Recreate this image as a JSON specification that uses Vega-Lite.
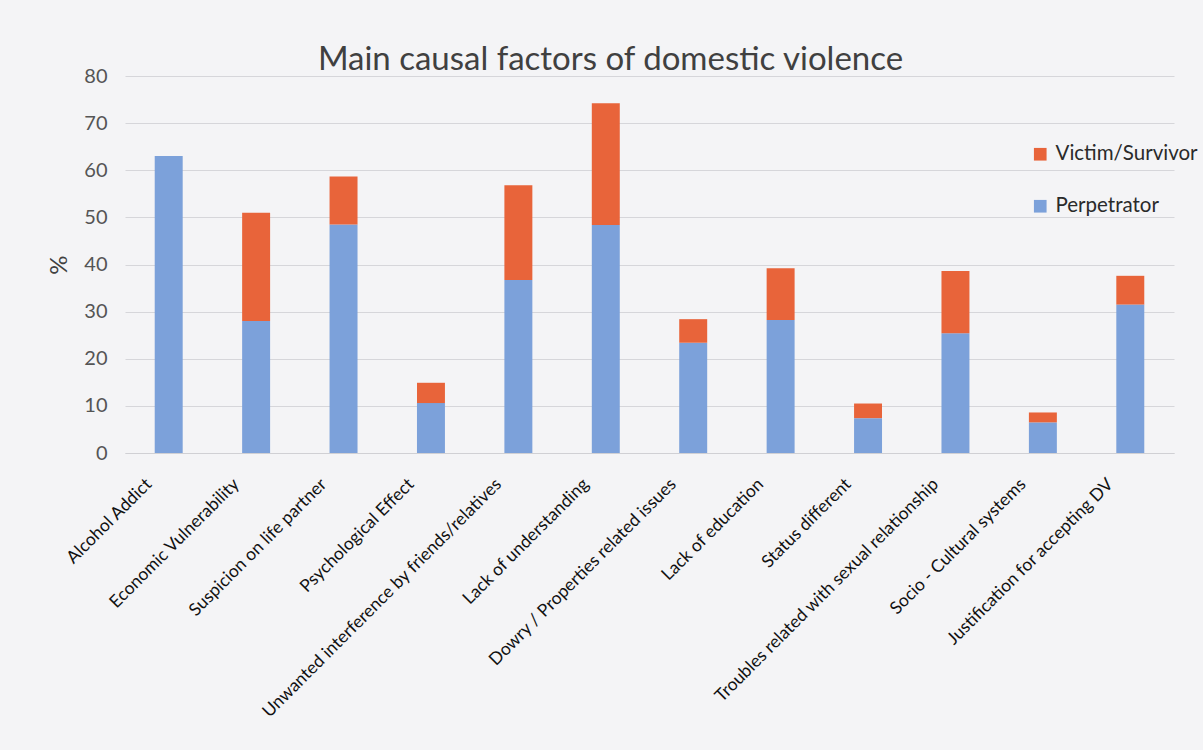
{
  "$schema": "https://vega.github.io/schema/vega-lite/v6.json",
  "autosize": "none",
  "width": 1049,
  "height": 377,
  "padding": {"left": 125, "top": 76, "right": 29, "bottom": 297},
  "background": "#f4f4f6",
  "title": {
    "text": "Main causal factors of domestic violence",
    "font": "Lato",
    "fontSize": 33,
    "fontWeight": "normal",
    "color": "#404040",
    "anchor": "middle",
    "baseline": "alphabetic",
    "dx": -39,
    "dy": 37,
    "offset": 0
  },
  "data": {
    "values": [
      {"factor": "Alcohol Addict", "group": "Perpetrator", "value": 63, "ord": 1},
      {"factor": "Economic Vulnerability", "group": "Perpetrator", "value": 28, "ord": 1},
      {"factor": "Economic Vulnerability", "group": "Victim/Survivor", "value": 23, "ord": 2},
      {"factor": "Suspicion on life partner", "group": "Perpetrator", "value": 48.5, "ord": 1},
      {"factor": "Suspicion on life partner", "group": "Victim/Survivor", "value": 10.2, "ord": 2},
      {"factor": "Psychological Effect", "group": "Perpetrator", "value": 10.6, "ord": 1},
      {"factor": "Psychological Effect", "group": "Victim/Survivor", "value": 4.3, "ord": 2},
      {"factor": "Unwanted interference by friends/relatives", "group": "Perpetrator", "value": 36.7, "ord": 1},
      {"factor": "Unwanted interference by friends/relatives", "group": "Victim/Survivor", "value": 20.1, "ord": 2},
      {"factor": "Lack of understanding", "group": "Perpetrator", "value": 48.4, "ord": 1},
      {"factor": "Lack of understanding", "group": "Victim/Survivor", "value": 25.8, "ord": 2},
      {"factor": "Dowry / Properties related issues", "group": "Perpetrator", "value": 23.4, "ord": 1},
      {"factor": "Dowry / Properties related issues", "group": "Victim/Survivor", "value": 5, "ord": 2},
      {"factor": "Lack of education", "group": "Perpetrator", "value": 28.2, "ord": 1},
      {"factor": "Lack of education", "group": "Victim/Survivor", "value": 11, "ord": 2},
      {"factor": "Status different", "group": "Perpetrator", "value": 7.4, "ord": 1},
      {"factor": "Status different", "group": "Victim/Survivor", "value": 3.1, "ord": 2},
      {"factor": "Troubles related with sexual relationship", "group": "Perpetrator", "value": 25.4, "ord": 1},
      {"factor": "Troubles related with sexual relationship", "group": "Victim/Survivor", "value": 13.2, "ord": 2},
      {"factor": "Socio - Cultural systems", "group": "Perpetrator", "value": 6.5, "ord": 1},
      {"factor": "Socio - Cultural systems", "group": "Victim/Survivor", "value": 2.1, "ord": 2},
      {"factor": "Justification for accepting DV", "group": "Perpetrator", "value": 31.5, "ord": 1},
      {"factor": "Justification for accepting DV", "group": "Victim/Survivor", "value": 6.1, "ord": 2}
    ]
  },
  "mark": {"type": "bar"},
  "encoding": {
    "x": {
      "field": "factor",
      "type": "nominal",
      "sort": null,
      "scale": {"paddingInner": 0.68, "paddingOuter": 0.34},
      "axis": {
        "title": null,
        "labelAngle": -45,
        "labelAlign": "right",
        "labelBaseline": "top",
        "labelFont": "Lato",
        "labelFontSize": 17.5,
        "labelColor": "#111111",
        "labelPadding": 22,
        "labelOffset": -26,
        "labelLimit": 500,
        "labelOverlap": false,
        "ticks": false,
        "domainColor": "#d0d0d4",
        "domainWidth": 1
      }
    },
    "y": {
      "field": "value",
      "type": "quantitative",
      "stack": "zero",
      "scale": {"domain": [0, 80], "nice": false},
      "axis": {
        "title": "%",
        "titleFont": "Lato",
        "titleFontSize": 24,
        "titleFontWeight": "normal",
        "titleColor": "#404040",
        "titlePadding": 12,
        "values": [0, 10, 20, 30, 40, 50, 60, 70, 80],
        "labelOverlap": false,
        "labelFont": "Lato",
        "labelFontSize": 20,
        "labelColor": "#555555",
        "labelPadding": 18,
        "ticks": false,
        "domain": false,
        "gridColor": "#d6d6da",
        "gridWidth": 1
      }
    },
    "color": {
      "field": "group",
      "type": "nominal",
      "scale": {
        "domain": ["Victim/Survivor", "Perpetrator"],
        "range": ["#e8643a", "#7ca1da"]
      },
      "legend": {
        "title": null,
        "orient": "none",
        "legendX": 905,
        "legendY": 68,
        "symbolType": "square",
        "symbolSize": 160,
        "symbolStrokeWidth": 0,
        "labelFont": "Lato",
        "labelFontSize": 20.5,
        "labelColor": "#2a2a2a",
        "rowPadding": 31,
        "labelOffset": 5
      }
    },
    "order": {"field": "ord", "type": "quantitative"}
  },
  "config": {"view": {"stroke": null}}
}
